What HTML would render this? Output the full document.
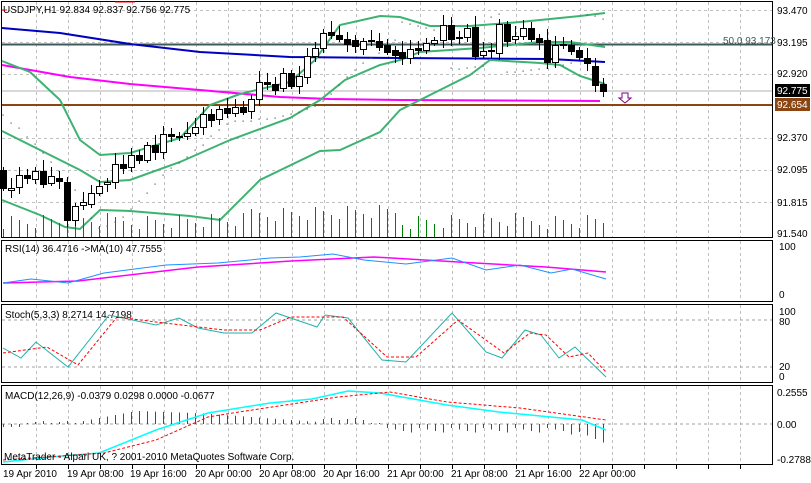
<!DOCTYPE html>
<html><head><meta charset="utf-8"><style>
html,body{margin:0;padding:0;background:#fff;}
svg{display:block;font-family:"Liberation Sans",sans-serif;}
text{font-size:10px;fill:#000;}
</style></head><body>
<svg id="s" width="811" height="483" viewBox="0 0 811 483" xmlns="http://www.w3.org/2000/svg">
<rect x="0" y="0" width="811" height="483" fill="#fff"/>
<g id="grid" stroke="#c0c0c0" stroke-dasharray="3,3" stroke-width="1"></g>
<g fill="none" stroke="#000" stroke-width="1">
<rect x="1.5" y="1.5" width="771" height="236"/>
<rect x="1.5" y="240.5" width="771" height="61"/>
<rect x="1.5" y="304.5" width="771" height="78"/>
<rect x="1.5" y="385.5" width="771" height="79"/>
</g>
<line x1="2" y1="44.5" x2="772" y2="44.5" stroke="#3c5a5a" stroke-width="2"/>
<line x1="2" y1="91" x2="772" y2="91" stroke="#b0b0b0" stroke-width="1"/>
<line x1="2" y1="105" x2="772" y2="105" stroke="#8b4513" stroke-width="2"/>
<polyline fill="none" stroke="#0000c0" stroke-width="2" points="2,28 60,33 130,44 200,52 290,57 400,58 550,59 605,62"/>
<polyline fill="none" stroke="#ff00ff" stroke-width="2" points="2,65 70,77 130,84 200,90 280,97 330,99 400,100 600,101"/>
<g fill="none" stroke="#3cb371" stroke-width="2">
<polyline points="2,61 30,72 60,100 80,140 100,155 130,153 180,138 210,105 240,94 290,82 315,60 340,25 380,16 400,17 430,26 470,26 520,22 580,16 605,13"/>
<polyline points="2,131 40,150 80,170 100,182 130,180 180,162 230,140 290,118 320,100 345,80 380,65 400,60 420,52 480,48 540,42 570,42 605,47"/>
<polyline points="2,200 40,215 65,227 80,229 100,210 130,211 190,216 220,220 260,180 320,151 340,150 380,132 400,110 440,90 470,75 490,60 540,63 560,65 580,76 605,84"/>
</g>
<g id="vol"></g>
<g id="sar"></g>
<g id="candles"></g>
<text x="3" y="13">USDJPY,H1  92.834 92.837 92.756 92.775</text>
<line x1="2" y1="10" x2="7" y2="10" stroke="#f00"/>
<line x1="115" y1="2" x2="135" y2="2" stroke="#f00"/>
<text x="723" y="44" style="fill:#3c5a5a">50.0 93.173</text>
<path d="M622,93 h6 v5 h3 l-6,5 l-6,-5 h3 z" fill="#fff" stroke="#800080"/>
<g>
<text x="777" y="14">93.470</text><text x="777" y="46">93.195</text><text x="777" y="77">92.920</text>
<text x="777" y="141">92.370</text><text x="777" y="173">92.095</text><text x="777" y="206">91.815</text><text x="777" y="237">91.540</text>
<rect x="775" y="84" width="35" height="13" fill="#000"/><text x="777" y="94" style="fill:#fff">92.775</text>
<rect x="775" y="98" width="35" height="13" fill="#8b4513"/><text x="777" y="108" style="fill:#fff">92.654</text>
</g>
<text x="5" y="252">RSI(14) 36.4716   -&gt;MA(10) 47.7555</text>
<text x="779" y="250">100</text><text x="779" y="298">0</text>
<polyline fill="none" stroke="#ff00ff" stroke-width="1.5" points="3,283 78,281 198,267 291,261 374,257 458,262 546,267 606,272"/>
<polyline fill="none" stroke="#1e90ff" stroke-width="1" points="3,283 31,279 50,281 68,283 104,273 166,265 218,263 270,258 300,257 333,254 364,260 406,264 452,258 486,270 520,265 551,273 572,269 606,279"/>
<line x1="2" y1="320" x2="772" y2="320" stroke="#a0a0a0" stroke-dasharray="3,3"/>
<line x1="2" y1="367" x2="772" y2="367" stroke="#a0a0a0" stroke-dasharray="3,3"/>
<text x="5" y="318">Stoch(5,3,3) 8.2714 14.7198</text>
<text x="779" y="315">100</text><text x="779" y="325">80</text><text x="779" y="370">20</text><text x="779" y="380">0</text>
<polyline fill="none" stroke="#20b2aa" stroke-width="1" points="3,348 21,358 36,342 68,367 109,315 156,325 179,318 198,328 224,333 252,333 276,313 317,327 325,315 348,318 382,360 406,362 452,313 486,352 502,358 525,330 541,335 559,358 575,347 606,377"/>
<polyline fill="none" stroke="#f00" stroke-width="1" stroke-dasharray="3,2" points="3,353 47,347 78,365 117,317 156,322 224,330 260,330 291,317 343,317 387,357 416,357 458,320 504,353 530,333 546,335 569,357 588,353 606,372"/>
<line x1="2" y1="424" x2="772" y2="424" stroke="#a0a0a0" stroke-dasharray="3,3"/>
<g id="hist"></g>
<text x="5" y="399">MACD(12,26,9) -0.0379 0.0298 0.0000 -0.0677</text>
<text x="777" y="396">0.2555</text><text x="777" y="428">0.00</text><text x="777" y="463">-0.2788</text>
<polyline fill="none" stroke="#00ffff" stroke-width="1.5" points="3,462 62,456 99,453 156,430 208,413 270,403 312,399 348,391 380,393 447,405 499,412 551,417 582,420 606,430"/>
<polyline fill="none" stroke="#f00" stroke-width="1" stroke-dasharray="3,2" points="3,460 104,453 156,440 208,417 239,412 338,397 390,392 447,402 520,408 606,420"/>
<text x="4" y="460">MetaTrader - Alpari UK, ? 2001-2010 MetaQuotes Software Corp.</text>
<g id="ticks" stroke="#000"></g>
<text x="3" y="477">19 Apr 2010</text><text x="67" y="477">19 Apr 08:00</text><text x="130" y="477">19 Apr 16:00</text>
<text x="195" y="477">20 Apr 00:00</text><text x="259" y="477">20 Apr 08:00</text><text x="323" y="477">20 Apr 16:00</text>
<text x="387" y="477">21 Apr 00:00</text><text x="451" y="477">21 Apr 08:00</text><text x="515" y="477">21 Apr 16:00</text>
<text x="579" y="477">22 Apr 00:00</text>
</svg>
<script>
var NS="http://www.w3.org/2000/svg";
function el(p,t,a){var e=document.createElementNS(NS,t);for(var k in a)e.setAttribute(k,a[k]);document.getElementById(p).appendChild(e);return e;}
for(var x=36;x<772;x+=32){el("grid","line",{x1:x+.5,y1:2,x2:x+.5,y2:237});el("grid","line",{x1:x+.5,y1:241,x2:x+.5,y2:301});el("grid","line",{x1:x+.5,y1:305,x2:x+.5,y2:382});el("grid","line",{x1:x+.5,y1:386,x2:x+.5,y2:464});el("ticks","line",{x1:x+.5,y1:465,x2:x+.5,y2:469});}
[10,42,74,138,170,202].forEach(function(y){el("grid","line",{x1:2,y1:y+.5,x2:772,y2:y+.5});});
var c=[[3,170,188],[11,190,188],[19,187,175],[27,175,178],[35,179,171],[43,171,184],[51,183,176],[59,178,181],[67,182,220],[75,220,206],[83,205,202],[91,204,193],[99,193,186],[107,184,182],[115,182,164],[123,164,168],[131,167,155],[139,155,160],[147,160,145],[155,145,152],[163,152,134],[171,134,136],[179,136,136],[187,136,133],[195,133,127],[203,127,114],[211,114,120],[219,119,109],[227,108,113],[235,113,107],[243,107,112],[251,111,99],[259,99,82],[267,82,84],[275,84,90],[283,88,73],[291,73,86],[299,86,76],[307,77,56],[315,56,48],[323,48,33],[331,32,35],[339,35,39],[347,39,44],[355,40,46],[363,49,41],[371,40,41],[379,41,47],[387,45,52],[395,50,55],[402,52,58],[410,58,49],[418,48,50],[426,50,43],[434,43,40],[443,40,25],[451,25,39],[459,37,38],[467,37,28],[475,27,56],[483,55,51],[491,50,51],[499,53,24],[507,24,41],[515,39,36],[523,36,28],[531,28,39],[539,38,42],[547,40,62],[555,62,45],[563,44,44],[571,45,51],[579,50,57],[587,58,63],[595,66,85],[603,84,91]];
c.forEach(function(d,i){var t=Math.min(d[1],d[2]),b=Math.max(d[1],d[2]);var w=3+(i*7%9);
el("candles","line",{x1:d[0]+.5,y1:t-w,x2:d[0]+.5,y2:b+3+(i*5%6),stroke:"#000"});
var h=Math.max(b-t,1);el("candles","rect",{x:d[0]-3+.5,y:t+.5,width:6,height:h,fill:d[2]>d[1]?"#000":"#fff",stroke:"#000"});
var vh=8+((i*13)%17)+(i>30&&i<50?8:0);el("vol","line",{x1:d[0]+.5,y1:237,x2:d[0]+.5,y2:237-vh,stroke:"#008000","stroke-width":1});
});
var sar=[[3,115],[11,123],[19,128],[27,137],[35,144],[43,153],[51,162],[59,171],[67,180],[75,190],[83,200],[91,218],[99,228],[107,226],[115,222],[123,217],[131,209],[139,201],[147,193],[155,184],[163,175],[171,168],[179,163],[187,157],[195,150],[203,145],[211,136],[219,130],[227,124],[235,121],[243,121],[251,121],[259,119],[267,119],[275,118],[283,116],[291,114],[299,112],[307,109],[315,106],[323,101],[331,94],[339,85],[347,77],[355,70],[363,63],[371,58],[379,53],[387,47],[395,40],[402,22],[410,24],[418,26],[426,28],[434,30],[443,31],[451,68],[459,69],[467,68],[475,67],[483,66],[491,17],[499,14],[507,72],[515,72],[523,71],[531,70],[539,69],[547,68],[555,66],[563,65],[571,63],[587,15],[595,16],[603,19]];
sar.forEach(function(p){el("sar","rect",{x:p[0]-0.5,y:p[1]-0.5,width:1.2,height:1.2,fill:"#555"});});
for(var i=0;i<76;i++){var x=3+i*8,v;
 if(i<3)v=-3;else if(i<10)v=1+i%3;else if(i<17)v=3+(i-10)*1.5;else if(i<26)v=13-(i-17)*0.3;else if(i<40)v=10-(i-26)*0.6;else if(i<46)v=4+(i%3);else if(i<48)v=1;else v=-(4+(i%4)*1.5+(i>70?(i-70)*2:0));
 el("hist","line",{x1:x+.5,y1:424,x2:x+.5,y2:424-v,stroke:v>0?"#008000":"#f00","stroke-width":1});}
</script>
</body></html>
